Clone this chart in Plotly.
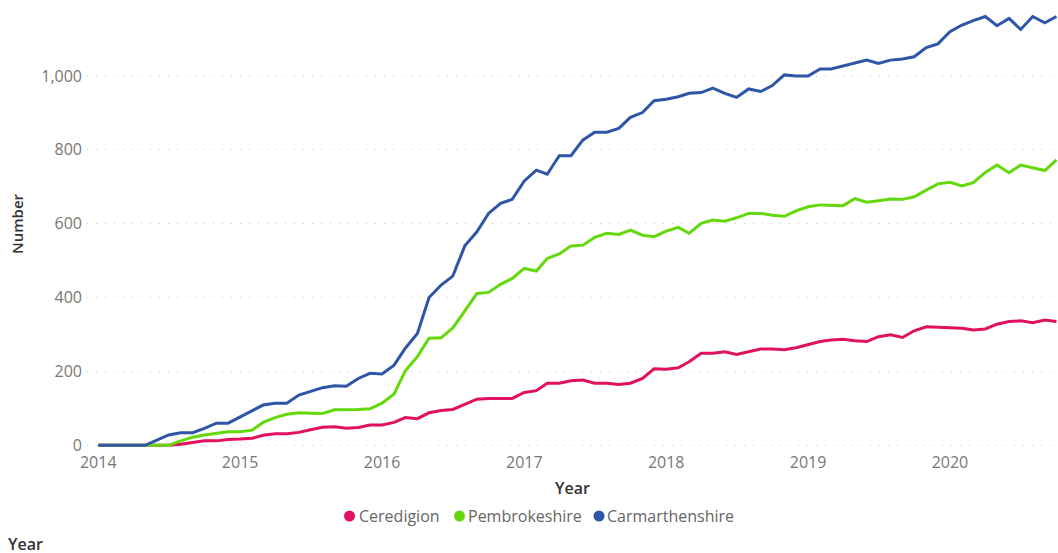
import pandas as pd
import plotly.graph_objects as go

# Monthly series, Jan 2014 .. Oct 2020
months = pd.date_range("2014-01-01", periods=82, freq="MS")

ceredigion = [0, 0, 0, 0, 0, 0, 0, 3, 8, 12, 12, 16, 17, 19, 27, 31, 31, 35, 42, 49,
              50, 46, 48, 55, 55, 62, 75, 72, 88, 94, 97, 111, 125, 127, 127, 127, 143, 148, 168, 168,
              175, 177, 168, 168, 165, 168, 181, 207, 206, 210, 226, 249, 249, 253, 246, 253, 261, 261, 259, 264,
              273, 281, 285, 287, 283, 281, 294, 299, 292, 310, 321, 320, 320, 317, 312, 315, 328, 335, 337, 332,
              339, 335]

pembrokeshire = [0, 0, 0, 0, 0, 0, 0, 12, 22, 28, 32, 37, 37, 41, 62, 75, 84, 88, 87, 86,
                 96, 96, 97, 99, 114, 139, 202, 240, 290, 291, 318, 364, 411, 414, 436, 452, 479, 472, 506, 518,
                 540, 542, 563, 574, 571, 583, 569, 565, 580, 590, 574, 601, 610, 607, 616, 628, 628, 623, 620, 635,
                 646, 651, 651, 649, 668, 658, 662, 667, 666, 673, 691, 708, 712, 702, 711, 739, 759, 738, 759, 752,
                 744, 773]

carmarthenshire = [0, 0, 0, 0, 0, 14, 28, 34, 34, 46, 60, 60, 77, 92, 109, 114, 114, 136, 145, 156,
                   161, 160, 181, 195, 193, 217, 263, 303, 400, 434, 458, 540, 578, 628, 655, 666, 716, 745, 734, 784,
                   784, 827, 848, 848, 858, 888, 901, 933, 937, 944, 953, 955, 967, 953, 942, 965, 958, 974, 1003, 1000,
                   1000, 1019, 1019, 1027, 1034, 1043, 1034, 1043, 1046, 1052, 1077, 1087, 1120, 1138, 1150, 1161, 1136, 1156, 1126, 1161,
                   1144, 1161]

series_names = ["Ceredigion", "Pembrokeshire", "Carmarthenshire"]
series_values = [ceredigion, pembrokeshire, carmarthenshire]
series_colors = ["#E0115F", "#63D80B", "#2F56A6"]

FONT = "Segoe UI, Open Sans, sans-serif"

W, H = 1058, 553
ML, MT, MB = 87, 0, 105
PW = W - ML
PH = H - MT - MB


def px_to_paper_x(px):
    return (px - ML) / PW


def px_to_paper_y(py):
    return (MT + PH - py) / PH


fig = go.Figure()
for name, vals, col in zip(series_names, series_values, series_colors):
    fig.add_trace(go.Scatter(
        x=months, y=vals, mode="lines", name=name,
        line=dict(color=col, width=3), cliponaxis=False,
    ))

# legend drawn as dot + label, laid out like the original
legend_dot_x = [349.5, 459.5, 599.0]
legend_text_x = [357.0, 466.0, 605.0]
legend_y = px_to_paper_y(516)
shapes = []
annotations = []
for name, col, dx, tx in zip(series_names, series_colors, legend_dot_x, legend_text_x):
    shapes.append(dict(
        type="circle", xref="paper", yref="paper",
        xsizemode="pixel", ysizemode="pixel",
        xanchor=px_to_paper_x(dx), yanchor=legend_y,
        x0=-5.5, x1=5.5, y0=-5.5, y1=5.5,
        fillcolor=col, line=dict(width=0),
    ))
    annotations.append(dict(
        text=name, xref="paper", yref="paper", x=px_to_paper_x(tx), y=legend_y,
        xanchor="left", yanchor="middle", showarrow=False,
        font=dict(family=FONT, size=16, color="#666666"),
    ))

annotations.append(dict(
    text="Year", xref="paper", yref="paper", x=px_to_paper_x(6), y=px_to_paper_y(531),
    xanchor="left", yanchor="top", showarrow=False,
    font=dict(family=FONT, size=16, color="#333333", weight=600),
))

fig.update_layout(
    width=W, height=H,
    margin=dict(l=ML, r=0, t=MT, b=MB, autoexpand=False),
    paper_bgcolor="white", plot_bgcolor="white",
    font=dict(family=FONT, size=16, color="#666666"),
    showlegend=False,
    xaxis=dict(
        type="date", range=["2013-12-03", "2020-10-05"],
        tick0="2014-01-01", dtick="M12", tickformat="%Y",
        showgrid=False, zeroline=False, showline=False, ticks="",
        ticklabelstandoff=3,
        tickfont=dict(family=FONT, size=16, color="#777777"),
        title=dict(text="Year", font=dict(family=FONT, size=16, color="#333333", weight=600), standoff=10),
        automargin=False,
    ),
    yaxis=dict(
        range=[-7.3, 1205.8], tickvals=[0, 200, 400, 600, 800, 1000],
        tickformat=",d", showgrid=True, gridcolor="#c8c8c8", griddash="1px,8px", gridwidth=1,
        zeroline=False, showline=False, ticks="",
        ticklabelstandoff=4,
        tickfont=dict(family=FONT, size=16, color="#777777"),
        title=dict(text="Number", font=dict(family=FONT, size=15, color="#333333", weight=600), standoff=14),
        automargin=False,
    ),
    shapes=shapes,
    annotations=annotations,
)

fig.write_html(
    "out.html",
    config={"displayModeBar": False},
    post_script="document.body.style.margin='0';document.body.style.overflow='hidden';",
)
